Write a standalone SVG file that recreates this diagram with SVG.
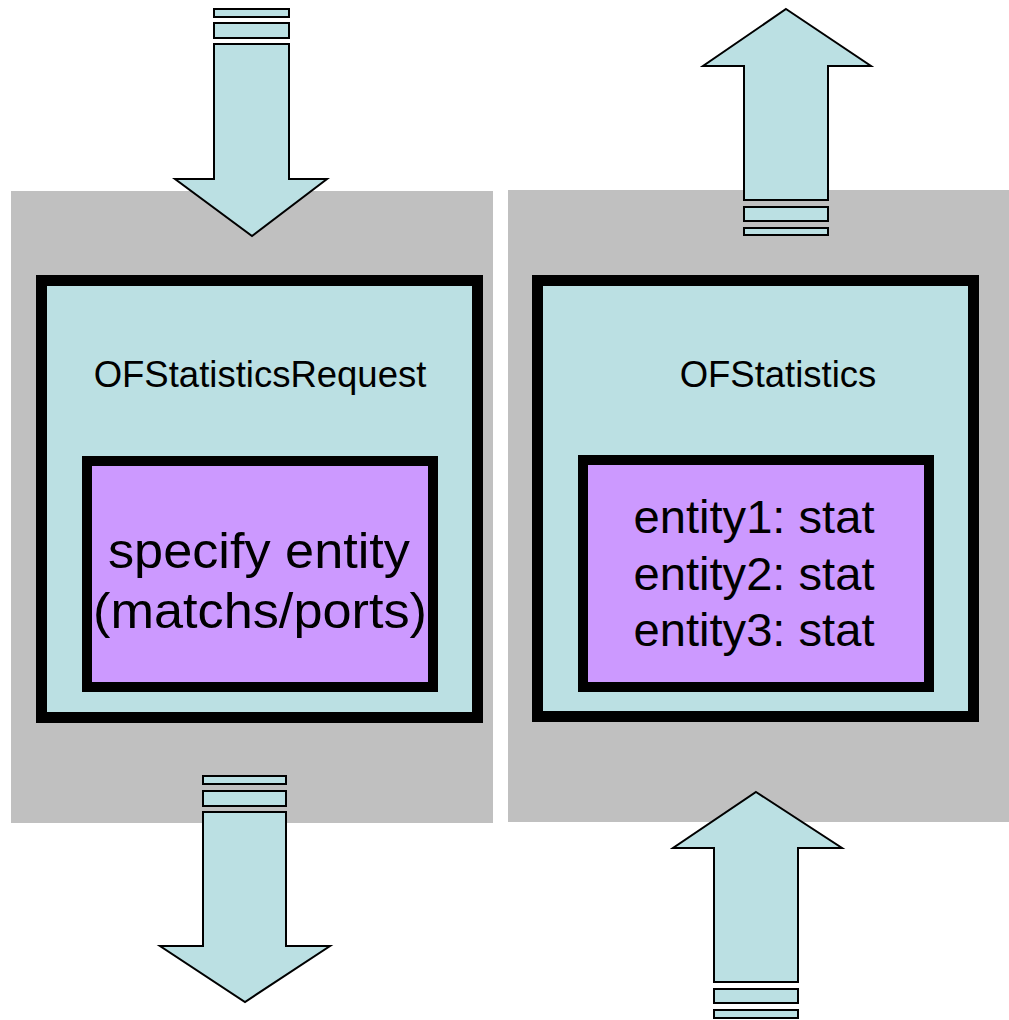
<svg xmlns="http://www.w3.org/2000/svg" width="1009" height="1020" viewBox="0 0 1009 1020">
<style>
.panel{fill:#C0C0C0;stroke:none}
.outer{fill:#BBE0E3;stroke:#000;stroke-width:11}
.inner{fill:#CC99FF;stroke:#000;stroke-width:10}
.arrow{fill:#BBE0E3;stroke:#000;stroke-width:2;stroke-linejoin:miter}
.t{font-family:"Liberation Sans",Arial,sans-serif;fill:#000;text-anchor:middle}
</style>
<rect width="1009" height="1020" fill="#fff"/>
<g id="request-panel">
<rect class="panel" x="11" y="191" width="482" height="632"/>
<rect class="outer" x="41.5" y="280.5" width="436" height="437"/>
<text class="t" x="260" y="387" font-size="36.5">OFStatisticsRequest</text>
<rect class="inner" x="87" y="461" width="346" height="226"/>
<text class="t" x="259" y="568" font-size="50" textLength="302" lengthAdjust="spacingAndGlyphs">specify entity</text>
<text class="t" x="260" y="628" font-size="50" textLength="334" lengthAdjust="spacingAndGlyphs">(matchs/ports)</text>
</g>
<g id="statistics-panel">
<rect class="panel" x="508" y="190" width="501" height="632"/>
<rect class="outer" x="537.5" y="280.5" width="436" height="436"/>
<text class="t" x="778" y="387" font-size="36.5">OFStatistics</text>
<rect class="inner" x="583" y="460" width="346" height="227"/>
<text class="t" x="754" y="533" font-size="46" textLength="241" lengthAdjust="spacingAndGlyphs">entity1: stat</text>
<text class="t" x="754" y="590" font-size="46" textLength="241" lengthAdjust="spacingAndGlyphs">entity2: stat</text>
<text class="t" x="754" y="646" font-size="46" textLength="241" lengthAdjust="spacingAndGlyphs">entity3: stat</text>
</g>
<g id="connectors">
<g id="arrow-in-request">
<rect class="arrow" x="214" y="9" width="75" height="8"/>
<rect class="arrow" x="214" y="23" width="75" height="15"/>
<polygon class="arrow" points="214,44 289,44 289,179 327,179 252,236 175,179 214,179"/>
</g>
<g id="arrow-out-request">
<rect class="arrow" x="203" y="776" width="83" height="8"/>
<rect class="arrow" x="203" y="791" width="83" height="15"/>
<polygon class="arrow" points="203,812 286,812 286,946 330,946 245,1002 160,946 203,946"/>
</g>
<g id="arrow-out-statistics">
<polygon class="arrow" points="786,9 871,66 828,66 828,200 744,200 744,66 703,66"/>
<rect class="arrow" x="744" y="207" width="84" height="14"/>
<rect class="arrow" x="744" y="228" width="84" height="7"/>
</g>
<g id="arrow-in-statistics">
<polygon class="arrow" points="756,792 842,848 798,848 798,982 714,982 714,848 673,848"/>
<rect class="arrow" x="714" y="989" width="84" height="14"/>
<rect class="arrow" x="714" y="1010" width="84" height="8"/>
</g>
</g>
</svg>
